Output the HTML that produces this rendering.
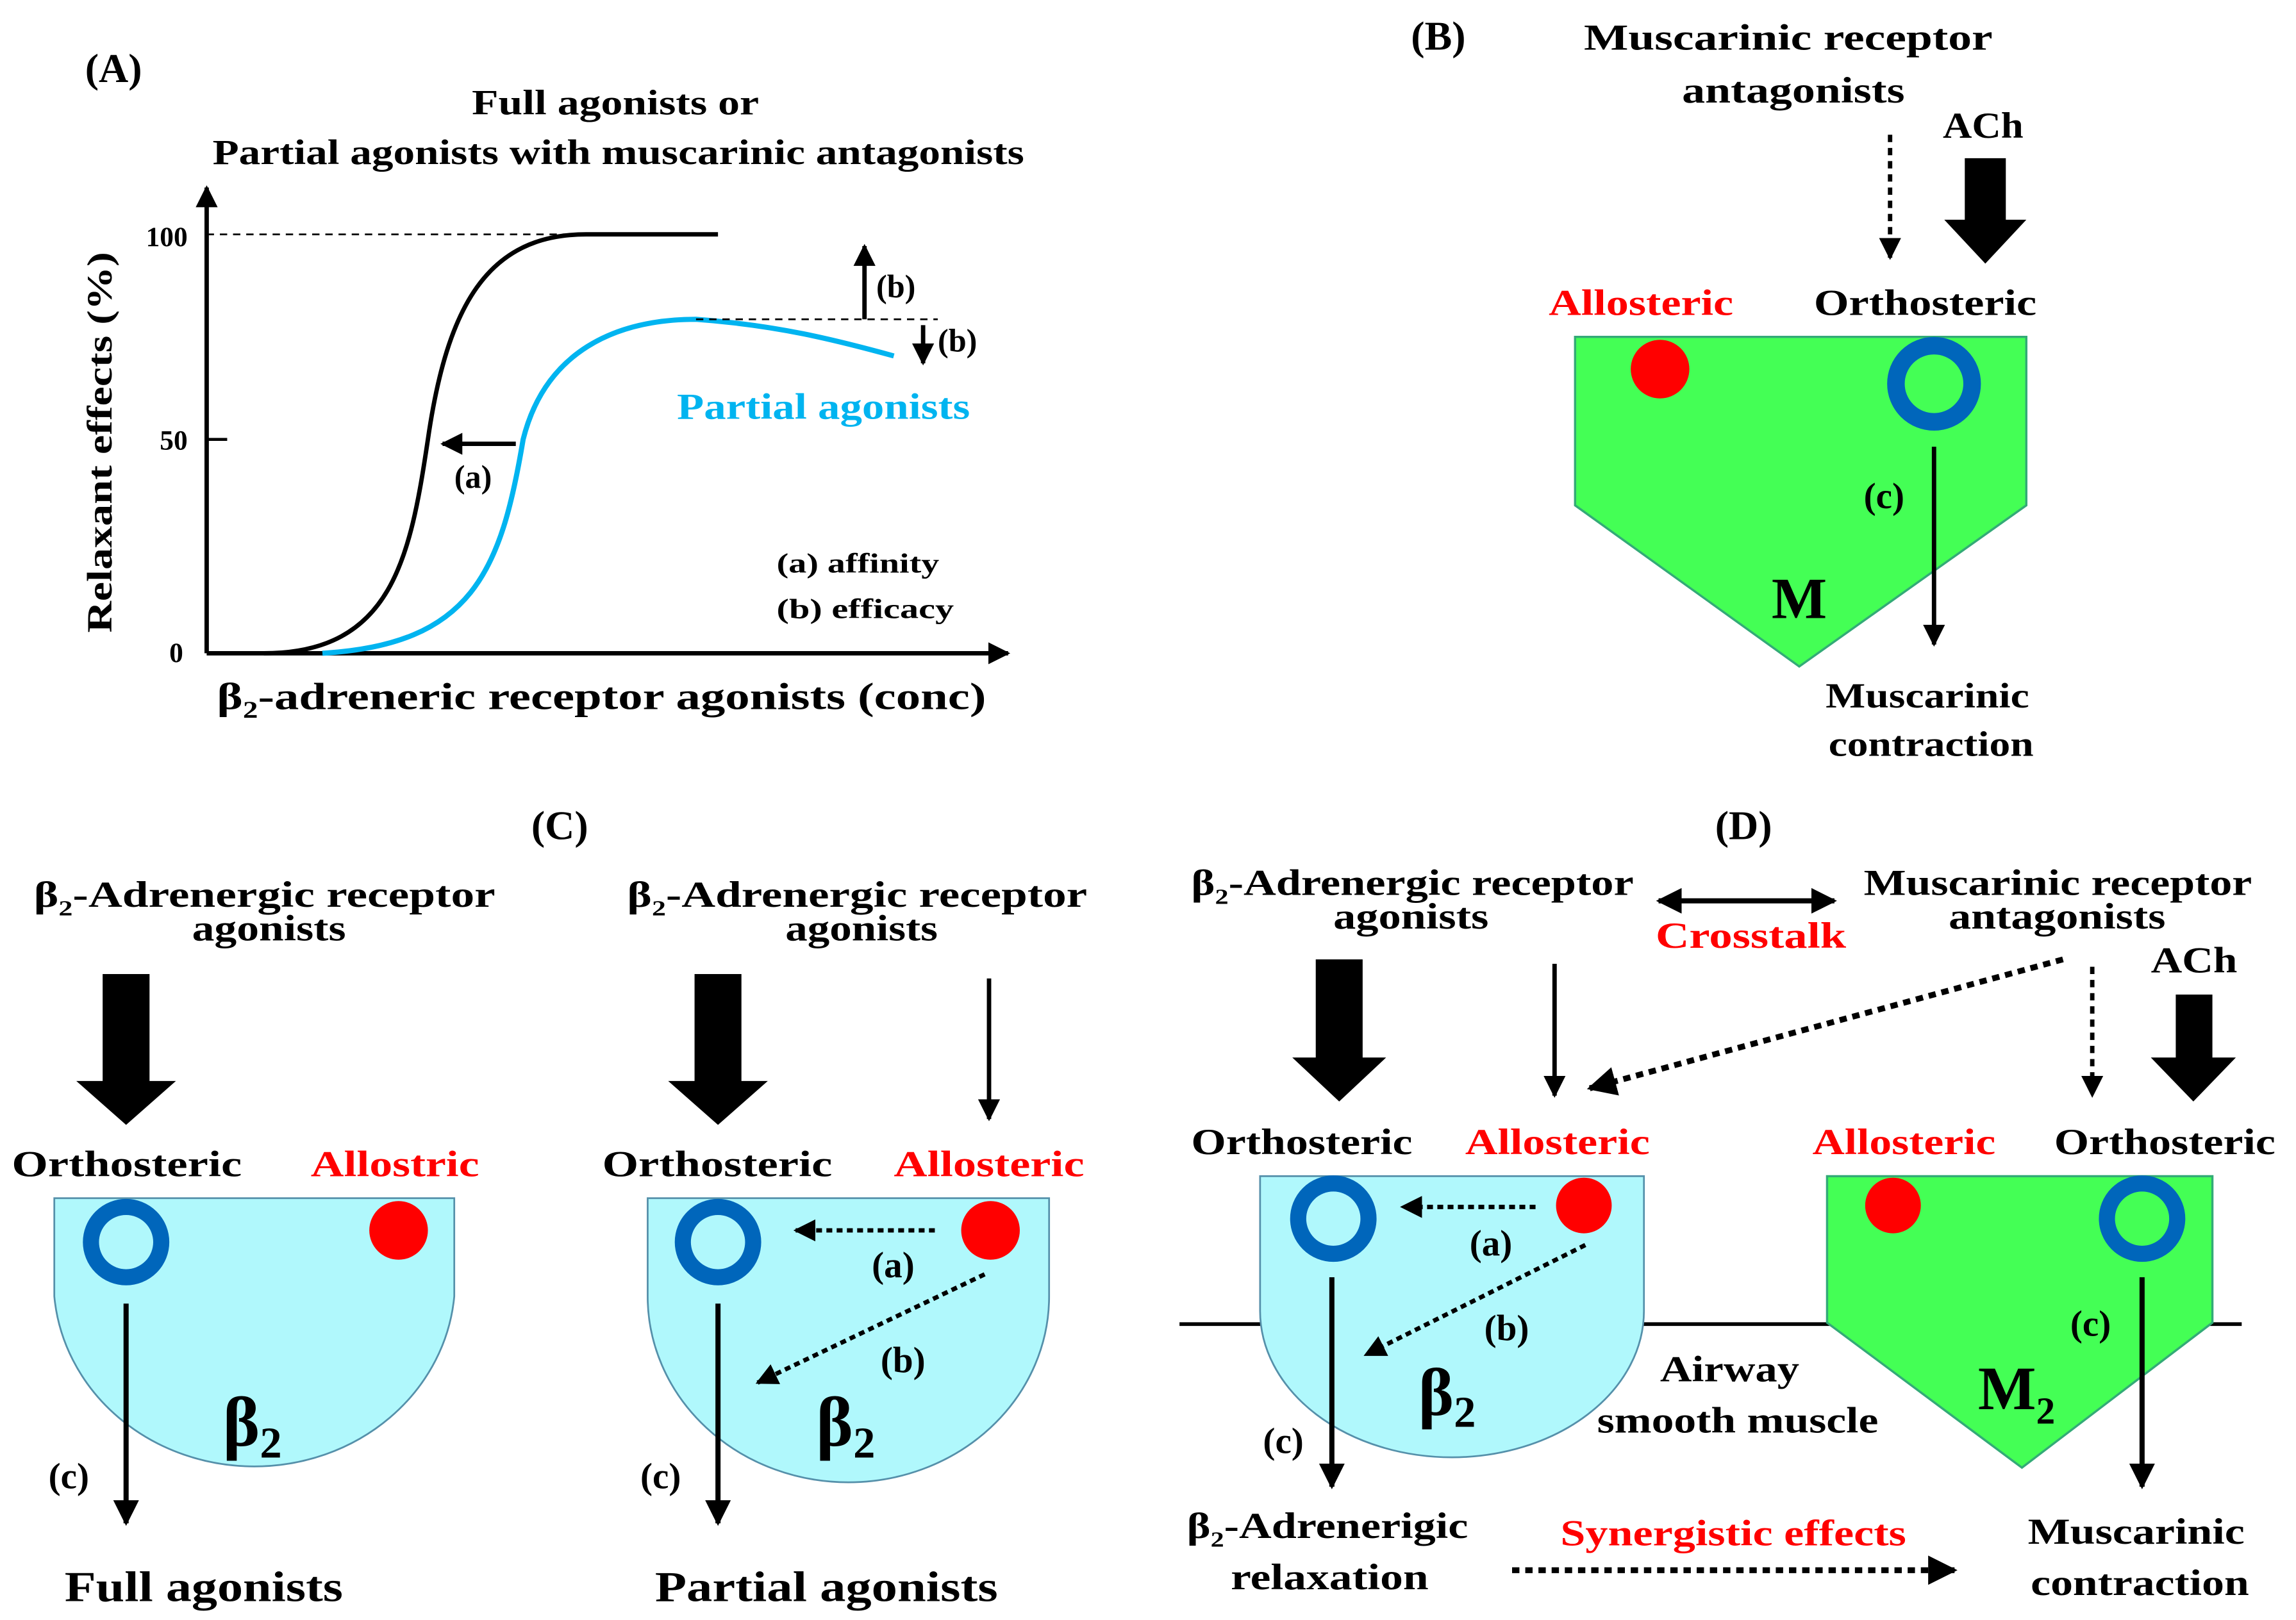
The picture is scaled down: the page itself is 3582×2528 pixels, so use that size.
<!DOCTYPE html>
<html><head><style>html,body{margin:0;padding:0;background:#fff}svg{display:block}</style></head><body>
<svg width="3582" height="2528" viewBox="0 0 1567 1106" xmlns="http://www.w3.org/2000/svg" font-family="Liberation Serif, serif" font-weight="bold">
<defs>
<marker id="ah" viewBox="0 0 10 10" refX="9" refY="5" markerWidth="5" markerHeight="5" orient="auto-start-reverse"><path d="M0,0L10,5L0,10z" fill="#000"/></marker>
</defs>
<g fill="#000" lengthAdjust="spacingAndGlyphs">
<!-- Panel A -->
<text x="58" y="56" font-size="28">(A)</text>
<text x="322" y="78" font-size="24" textLength="196" lengthAdjust="spacingAndGlyphs">Full agonists or</text>
<text x="145" y="112" font-size="24" textLength="554" lengthAdjust="spacingAndGlyphs">Partial agonists with muscarinic antagonists</text>
<line x1="141" y1="446" x2="141" y2="128" stroke="#000" stroke-width="3" marker-end="url(#ah)"/>
<line x1="141" y1="446" x2="688" y2="446" stroke="#000" stroke-width="3" marker-end="url(#ah)"/>
<text x="128" y="168" font-size="19" text-anchor="end">100</text>
<text x="128" y="307" font-size="19" text-anchor="end">50</text>
<text x="125" y="452" font-size="19" text-anchor="end">0</text>
<line x1="141" y1="300" x2="155" y2="300" stroke="#000" stroke-width="2"/>
<text transform="translate(76,432) rotate(-90)" font-size="24" textLength="260" lengthAdjust="spacingAndGlyphs">Relaxant effects (%)</text>
<line x1="141" y1="160" x2="400" y2="160" stroke="#000" stroke-width="1.2" stroke-dasharray="5,4"/>
<path d="M180,446 C268,446 280,380 292,300 C305,210 332,160 400,160 L490,160" fill="none" stroke="#000" stroke-width="3"/>
<path d="M220,446 C322,440 342,390 357,300 C372,240 420,218 475,218 C530,222 570,232 610,243" fill="none" stroke="#00b4f0" stroke-width="3.5"/>
<line x1="475" y1="218" x2="640" y2="218" stroke="#000" stroke-width="1.2" stroke-dasharray="5,4"/>
<line x1="590" y1="218" x2="590" y2="168" stroke="#000" stroke-width="3" marker-end="url(#ah)"/>
<line x1="630" y1="222" x2="630" y2="248" stroke="#000" stroke-width="3" marker-end="url(#ah)"/>
<text x="598" y="203" font-size="22">(b)</text>
<text x="640" y="240" font-size="22">(b)</text>
<line x1="352" y1="303" x2="302" y2="303" stroke="#000" stroke-width="3" marker-end="url(#ah)"/>
<text x="310" y="333" font-size="22">(a)</text>
<text x="462" y="286" font-size="25" fill="#00b4f0" textLength="200" lengthAdjust="spacingAndGlyphs">Partial agonists</text>
<text x="530" y="391" font-size="19" textLength="111" lengthAdjust="spacingAndGlyphs">(a)  affinity</text>
<text x="530" y="422" font-size="19" textLength="121" lengthAdjust="spacingAndGlyphs">(b)  efficacy</text>
<text x="148" y="484" font-size="26" textLength="525" lengthAdjust="spacingAndGlyphs">β<tspan font-size="16" dy="6">2</tspan><tspan dy="-6">-adreneric  receptor  agonists (conc)</tspan></text>

<!-- Panel B -->
<text x="963" y="34" font-size="28">(B)</text>
<text x="1081" y="34" font-size="25" textLength="279" lengthAdjust="spacingAndGlyphs">Muscarinic  receptor</text>
<text x="1148" y="70" font-size="25" textLength="152" lengthAdjust="spacingAndGlyphs">antagonists</text>
<text x="1326" y="94" font-size="25" textLength="55" lengthAdjust="spacingAndGlyphs">ACh</text>
<line x1="1290" y1="92" x2="1290" y2="176" stroke="#000" stroke-width="3" stroke-dasharray="5,4" marker-end="url(#ah)"/>
<path d="M1341,108H1369V150H1383L1355,180L1327,150H1341Z"/>
<text x="1057" y="215" font-size="25" fill="#f00" textLength="126" lengthAdjust="spacingAndGlyphs">Allosteric</text>
<text x="1238" y="215" font-size="25" textLength="152" lengthAdjust="spacingAndGlyphs">Orthosteric</text>
<path d="M1075,230H1383V345L1228,455L1075,345Z" fill="#44ff55" stroke="#3a7" stroke-width="1.5"/>
<circle cx="1133" cy="252" r="20" fill="#f00"/>
<circle cx="1320" cy="262" r="26" fill="none" stroke="#0066bb" stroke-width="12"/>
<line x1="1320" y1="305" x2="1320" y2="440" stroke="#000" stroke-width="3" marker-end="url(#ah)"/>
<text x="1272" y="347" font-size="25">(c)</text>
<text x="1228" y="422" font-size="40" text-anchor="middle">M</text>
<text x="1246" y="483" font-size="24" textLength="139" lengthAdjust="spacingAndGlyphs">Muscarinic</text>
<text x="1248" y="516" font-size="24" textLength="140" lengthAdjust="spacingAndGlyphs">contraction</text>

<!-- Panel C -->
<text x="382" y="573" font-size="28" text-anchor="middle">(C)</text>
<text x="23" y="619" font-size="25" textLength="315" lengthAdjust="spacingAndGlyphs">β<tspan font-size="15" dy="6">2</tspan><tspan dy="-6">-Adrenergic receptor</tspan></text>
<text x="131" y="642" font-size="25" textLength="105" lengthAdjust="spacingAndGlyphs">agonists</text>
<path d="M70,665H102V738H120L86,768L52,738H70Z"/>
<text x="8" y="803" font-size="25" textLength="157" lengthAdjust="spacingAndGlyphs">Orthosteric</text>
<text x="212" y="803" font-size="25" fill="#f00" textLength="115" lengthAdjust="spacingAndGlyphs">Allostric</text>
<path d="M37,818H310V885A137,127 0 0 1 37,885Z" fill="#b0f8fc" stroke="#5590aa" stroke-width="1.2"/>
<circle cx="86" cy="848" r="24" fill="none" stroke="#0066bb" stroke-width="11"/>
<circle cx="272" cy="840" r="20" fill="#f00"/>
<line x1="86" y1="890" x2="86" y2="1040" stroke="#000" stroke-width="3.5" marker-end="url(#ah)"/>
<text x="33" y="1016" font-size="25">(c)</text>
<text x="152" y="987" font-size="48">β<tspan font-size="30" dy="8">2</tspan></text>
<text x="44" y="1093" font-size="29" textLength="190" lengthAdjust="spacingAndGlyphs">Full agonists</text>

<text x="428" y="619" font-size="25" textLength="314" lengthAdjust="spacingAndGlyphs">β<tspan font-size="15" dy="6">2</tspan><tspan dy="-6">-Adrenergic receptor</tspan></text>
<text x="536" y="642" font-size="25" textLength="104" lengthAdjust="spacingAndGlyphs">agonists</text>
<path d="M474,665H506V738H524L490,768L456,738H474Z"/>
<line x1="675" y1="668" x2="675" y2="764" stroke="#000" stroke-width="3" marker-end="url(#ah)"/>
<text x="411" y="803" font-size="25" textLength="157" lengthAdjust="spacingAndGlyphs">Orthosteric</text>
<text x="610" y="803" font-size="25" fill="#f00" textLength="130" lengthAdjust="spacingAndGlyphs">Allosteric</text>
<path d="M442,818H716V885A137,127 0 0 1 442,885Z" fill="#b0f8fc" stroke="#5590aa" stroke-width="1.2"/>
<circle cx="490" cy="848" r="24" fill="none" stroke="#0066bb" stroke-width="11"/>
<circle cx="676" cy="840" r="20" fill="#f00"/>
<line x1="638" y1="840" x2="543" y2="840" stroke="#000" stroke-width="3" stroke-dasharray="4,3" marker-end="url(#ah)"/>
<line x1="672" y1="870" x2="517" y2="944" stroke="#000" stroke-width="3" stroke-dasharray="4,3" marker-end="url(#ah)"/>
<text x="595" y="872" font-size="25">(a)</text>
<text x="601" y="937" font-size="25">(b)</text>
<line x1="490" y1="890" x2="490" y2="1040" stroke="#000" stroke-width="3.5" marker-end="url(#ah)"/>
<text x="437" y="1016" font-size="25">(c)</text>
<text x="557" y="987" font-size="48">β<tspan font-size="30" dy="8">2</tspan></text>
<text x="447" y="1093" font-size="29" textLength="234" lengthAdjust="spacingAndGlyphs">Partial agonists</text>

<!-- Panel D -->
<text x="1190" y="573" font-size="28" text-anchor="middle">(D)</text>
<text x="813" y="611" font-size="25" textLength="302" lengthAdjust="spacingAndGlyphs">β<tspan font-size="15" dy="6">2</tspan><tspan dy="-6">-Adrenergic receptor</tspan></text>
<text x="910" y="634" font-size="25" textLength="106" lengthAdjust="spacingAndGlyphs">agonists</text>
<line x1="1132" y1="615" x2="1252" y2="615" stroke="#000" stroke-width="3.5" marker-end="url(#ah)" marker-start="url(#ah)"/>
<text x="1130" y="647" font-size="25" fill="#f00" textLength="130" lengthAdjust="spacingAndGlyphs">Crosstalk</text>
<text x="1272" y="611" font-size="25" textLength="265" lengthAdjust="spacingAndGlyphs">Muscarinic receptor</text>
<text x="1330" y="634" font-size="25" textLength="148" lengthAdjust="spacingAndGlyphs">antagonists</text>
<text x="1468" y="664" font-size="25" textLength="59" lengthAdjust="spacingAndGlyphs">ACh</text>
<path d="M898,655H930V722H946L914,752L882,722H898Z"/>
<line x1="1061" y1="658" x2="1061" y2="748" stroke="#000" stroke-width="3" marker-end="url(#ah)"/>
<line x1="1408" y1="655" x2="1085" y2="743" stroke="#000" stroke-width="4" stroke-dasharray="5,4" marker-end="url(#ah)"/>
<line x1="1428" y1="660" x2="1428" y2="748" stroke="#000" stroke-width="3" stroke-dasharray="5,4" marker-end="url(#ah)"/>
<path d="M1485,679H1510V722H1526L1497,752L1468,722H1485Z"/>
<text x="813" y="788" font-size="25" textLength="151" lengthAdjust="spacingAndGlyphs">Orthosteric</text>
<text x="1000" y="788" font-size="25" fill="#f00" textLength="126" lengthAdjust="spacingAndGlyphs">Allosteric</text>
<text x="1237" y="788" font-size="25" fill="#f00" textLength="125" lengthAdjust="spacingAndGlyphs">Allosteric</text>
<text x="1402" y="788" font-size="25" textLength="151" lengthAdjust="spacingAndGlyphs">Orthosteric</text>
<line x1="805" y1="904" x2="1530" y2="904" stroke="#000" stroke-width="2.5"/>
<path d="M860,803H1122V895A131,100 0 0 1 860,895Z" fill="#b0f8fc" stroke="#5590aa" stroke-width="1.2"/>
<path d="M1247,803H1510V903L1380,1002L1247,903Z" fill="#44ff55" stroke="#3a7" stroke-width="1.5"/>
<circle cx="910" cy="832" r="24" fill="none" stroke="#0066bb" stroke-width="11"/>
<circle cx="1081" cy="823" r="19" fill="#f00"/>
<circle cx="1292" cy="823" r="19" fill="#f00"/>
<circle cx="1462" cy="832" r="24" fill="none" stroke="#0066bb" stroke-width="11"/>
<line x1="1048" y1="824" x2="957" y2="824" stroke="#000" stroke-width="3" stroke-dasharray="4,3" marker-end="url(#ah)"/>
<line x1="1082" y1="850" x2="932" y2="925" stroke="#000" stroke-width="3" stroke-dasharray="4,3" marker-end="url(#ah)"/>
<text x="1003" y="857" font-size="25">(a)</text>
<text x="1013" y="915" font-size="25">(b)</text>
<line x1="909" y1="872" x2="909" y2="1015" stroke="#000" stroke-width="3.5" marker-end="url(#ah)"/>
<text x="862" y="992" font-size="25">(c)</text>
<text x="968" y="966" font-size="46">β<tspan font-size="30" dy="8">2</tspan></text>
<text x="1133" y="943" font-size="25" textLength="95" lengthAdjust="spacingAndGlyphs">Airway</text>
<text x="1090" y="978" font-size="25" textLength="192" lengthAdjust="spacingAndGlyphs">smooth muscle</text>
<line x1="1462" y1="872" x2="1462" y2="1015" stroke="#000" stroke-width="3.5" marker-end="url(#ah)"/>
<text x="1413" y="912" font-size="25">(c)</text>
<text x="1350" y="962" font-size="42">M<tspan font-size="26" dy="10">2</tspan></text>
<text x="810" y="1050" font-size="25" textLength="192" lengthAdjust="spacingAndGlyphs">β<tspan font-size="15" dy="6">2</tspan><tspan dy="-6">-Adrenerigic</tspan></text>
<text x="840" y="1085" font-size="25" textLength="135" lengthAdjust="spacingAndGlyphs">relaxation</text>
<text x="1065" y="1055" font-size="25" fill="#f00" textLength="236" lengthAdjust="spacingAndGlyphs">Synergistic effects</text>
<line x1="1032" y1="1072" x2="1334" y2="1072" stroke="#000" stroke-width="4" stroke-dasharray="5,4" marker-end="url(#ah)"/>
<text x="1384" y="1054" font-size="25" textLength="148" lengthAdjust="spacingAndGlyphs">Muscarinic</text>
<text x="1386" y="1089" font-size="25" textLength="149" lengthAdjust="spacingAndGlyphs">contraction</text>
</g>
</svg>
</body></html>
